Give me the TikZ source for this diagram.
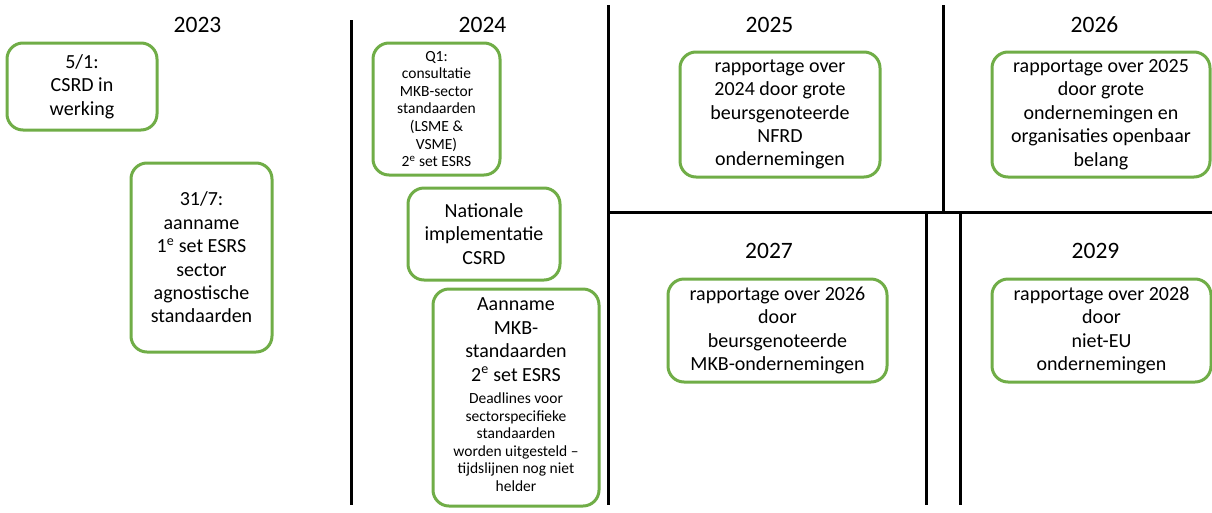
\documentclass[tikz,border=0pt]{standalone}
\usepackage{fontspec}
\setmainfont{Carlito}
\definecolor{boxgreen}{HTML}{70AD47}
\newcommand{\smalltxt}{\fontsize{15.5}{17.6}\selectfont}
\begin{document}
\begin{tikzpicture}[x=1pt,y=-1pt,
  event/.style={draw=boxgreen, line width=3pt, rounded corners=16pt, fill=white,
    align=center, inner sep=0pt, font=\fontsize{20}{23.4}\selectfont},
  small/.style={font=\smalltxt},
  year/.style={font=\fontsize{23.5}{28}\selectfont},
  divider/.style={line width=3pt, black}]
\useasboundingbox (0,0) rectangle (1212,512);

% dividers between the years
\draw[divider] (351,20) -- (351,505);
\draw[divider] (608,5) -- (608,505);
\draw[divider] (943,5) -- (943,212);
\draw[divider] (608,212) -- (1212,212);
\draw[divider] (926,212) -- (926,505);
\draw[divider] (960,212) -- (960,505);

% year headings
\node[year] (y23) at (197.5,24.5) {2023};
\node[year] (y24) at (482.5,24.5) {2024};
\node[year] (y25) at (769.5,24.5) {2025};
\node[year] (y26) at (1094.5,24.5) {2026};
\node[year] (y27) at (769,250.5) {2027};
\node[year] (y29) at (1095.5,250.5) {2029};

% 2023
\node[event, minimum width=150pt, minimum height=87pt] (csrd) at (82,86.5)
  {5/1:\\CSRD in\\werking};
\node[event, minimum width=141pt, minimum height=189pt] (esrs1) at (201.5,257.5)
  {31/7:\\aanname\\1\textsuperscript{e} set ESRS\\sector\\agnostische\\standaarden};

% 2024
\node[event, small, minimum width=127pt, minimum height=132pt] (q1) at (436.5,109)
  {Q1:\\consultatie\\MKB-sector\\standaarden\\(LSME \&\\VSME)\\2\textsuperscript{e} set ESRS};
\node[event, minimum width=152pt, minimum height=92pt] (nat) at (484,234)
  {Nationale\\implementatie\\CSRD};
\node[event, minimum width=166pt, minimum height=217pt] (mkb) at (516,397.5)
  {Aanname\\MKB-\\standaarden\\2\textsuperscript{e} set ESRS\\[-1pt]
   \smalltxt\begin{tabular}[t]{@{}c@{}}Deadlines voor\\sectorspecifieke\\standaarden\\
   worden uitgesteld --\\tijdslijnen nog niet\\helder\end{tabular}};

% 2025 / 2026
\node[event, minimum width=200pt, minimum height=125pt] (r25) at (780,114.5)
  {rapportage over\\2024 door grote\\beursgenoteerde\\NFRD\\ondernemingen};
\node[event, minimum width=218pt, minimum height=125pt] (r26) at (1101,114.5)
  {rapportage over 2025\\door grote\\ondernemingen en\\organisaties openbaar\\belang};

% 2027 / 2029
\node[event, minimum width=219pt, minimum height=103pt] (r27) at (777.5,330.5)
  {rapportage over 2026\\door\\beursgenoteerde\\MKB-ondernemingen};
\node[event, minimum width=219pt, minimum height=103pt] (r29) at (1101.5,330.5)
  {rapportage over 2028\\door\\niet-EU\\ondernemingen};
\end{tikzpicture}
\end{document}
